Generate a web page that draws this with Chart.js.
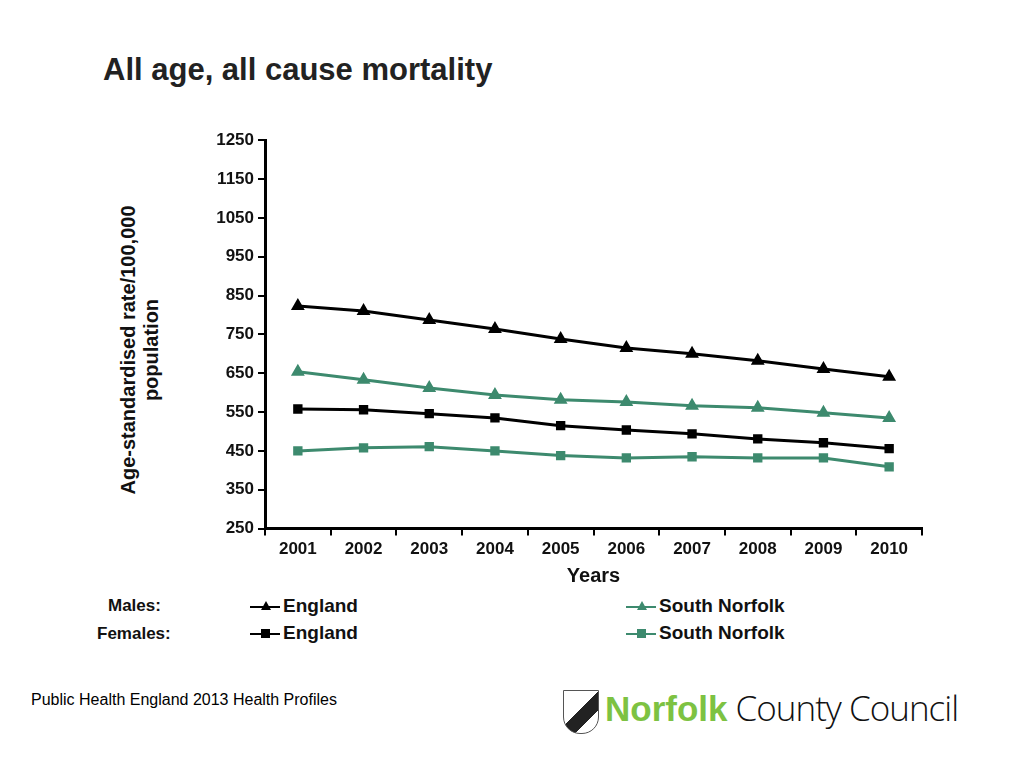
<!DOCTYPE html>
<html><head><meta charset="utf-8">
<script src="https://cdn.jsdelivr.net/npm/chart.js@4"></script>
<style>
body{margin:0;width:1024px;height:768px;background:#fff;font-family:Arial,"Liberation Sans",sans-serif;position:relative;overflow:hidden}
#title{position:absolute;left:103px;top:52px;font-size:31px;font-weight:bold;color:#222}
#wrap{position:absolute;left:190px;top:126px;width:740px;height:462px}
#ytitle{position:absolute;left:140px;top:350px;transform:translate(-50%,-50%) rotate(-90deg);font-weight:bold;font-size:20px;text-align:center;line-height:23px;white-space:nowrap;color:#111}
.leg{position:absolute;font-weight:bold;font-size:19px;color:#111}
.lab{position:absolute;font-weight:bold;font-size:17px;color:#111}
.sym{display:inline-block;width:30px;height:2px;vertical-align:middle;position:relative;margin-right:3px}
#src{position:absolute;left:31px;top:691px;font-size:16px}
#logo{position:absolute;left:605px;top:684px;font-size:35px;color:#111;white-space:nowrap;font-family:"Open Sans",sans-serif;font-weight:300;letter-spacing:-1px}
#logo b{color:#7dc242;font-weight:800;font-family:Arial,sans-serif;letter-spacing:0}
#shield{position:absolute;left:563px;top:690px;width:34px;height:42px;border:1px solid #555;border-radius:0 0 17px 17px;background:linear-gradient(135deg,#fff 45%,#222 45%,#222 70%,#fff 70%)}
</style></head><body>
<div id="title">All age, all cause mortality</div>
<div id="ytitle">Age-standardised rate/100,000<br>population</div>
<div id="wrap"><canvas id="c"></canvas></div>
<div class="lab" style="left:108px;top:596px">Males:</div>
<div class="lab" style="left:97px;top:624px">Females:</div>
<div class="leg" style="left:250px;top:595px"><span class="sym" style="background:#000"></span>England</div>
<div class="leg" style="left:250px;top:622px"><span class="sym" style="background:#000"></span>England</div>
<div class="leg" style="left:626px;top:595px"><span class="sym" style="background:#3d8a6e"></span>South Norfolk</div>
<div class="leg" style="left:626px;top:622px"><span class="sym" style="background:#3d8a6e"></span>South Norfolk</div>
<div id="src">Public Health England 2013 Health Profiles</div>
<div id="shield"></div>
<div id="logo"><b>Norfolk</b> County Council</div>
<script>
const years = ["2001","2002","2003","2004","2005","2006","2007","2008","2009","2010"];
const maleEngland = [823,810,787,764,738,715,700,682,661,641];
const maleSouthNorfolk = [654,633,612,594,582,576,566,561,548,535];
const femaleEngland = [558,556,546,535,515,504,494,481,471,456];
const femaleSouthNorfolk = [450,458,461,450,438,432,435,432,432,409];
const yTicks = [250,350,450,550,650,750,850,950,1050,1150,1250];
const GREEN = "#3d8a6e";

document.querySelectorAll(".sym").forEach((s, i) => {
  const m = document.createElement("span");
  const tri = i === 0 || i === 2;
  m.style.cssText = "position:absolute;left:11px;top:-4px;width:0;height:0;";
  if (tri) {
    m.style.borderLeft = "5px solid transparent";
    m.style.borderRight = "5px solid transparent";
    m.style.borderBottom = "9px solid " + s.style.background;
    m.style.top = "-5px";
  } else {
    m.style.width = "9px"; m.style.height = "9px"; m.style.background = s.style.background;
  }
  s.appendChild(m);
});

function ds(data, color, style) {
  return { data, borderColor: color, backgroundColor: color, pointStyle: style,
    pointRadius: style === "triangle" ? 5 : 4.5, borderWidth: 3, tension: 0 };
}
new Chart(document.getElementById("c"), {
  type: "line",
  data: { labels: years, datasets: [
    ds(maleEngland, "#000", "triangle"),
    ds(maleSouthNorfolk, GREEN, "triangle"),
    ds(femaleEngland, "#000", "rect"),
    ds(femaleSouthNorfolk, GREEN, "rect"),
  ]},
  options: {
    animation: false, responsive: true, maintainAspectRatio: false,
    plugins: { legend: { display: false }, tooltip: { enabled: false } },
    layout: { padding: { top: 4, right: 6 } },
    scales: {
      x: { offset: true,
        grid: { offset: true, drawOnChartArea: false, color: "#000", tickLength: 7, lineWidth: 2 },
        border: { color: "#000", width: 3 },
        ticks: { color: "#111", font: { size: 17, weight: "bold", family: "Arial" }, padding: 4 },
        title: { display: true, text: "Years", color: "#111", font: { size: 20, weight: "bold", family: "Arial" }, padding: 0 } },
      y: { min: 250, max: 1250,
        afterBuildTicks: (a) => { a.ticks = yTicks.map(v => ({ value: v })); },
        afterFit: (a) => { a.width = 75; },
        grid: { drawOnChartArea: false, color: "#000", tickLength: 7, lineWidth: 2 },
        border: { color: "#000", width: 3 },
        ticks: { color: "#111", font: { size: 17, weight: "bold", family: "Arial" }, padding: 4,
          callback: (v) => String(v) } }
    }
  }
});
</script>
</body></html>
